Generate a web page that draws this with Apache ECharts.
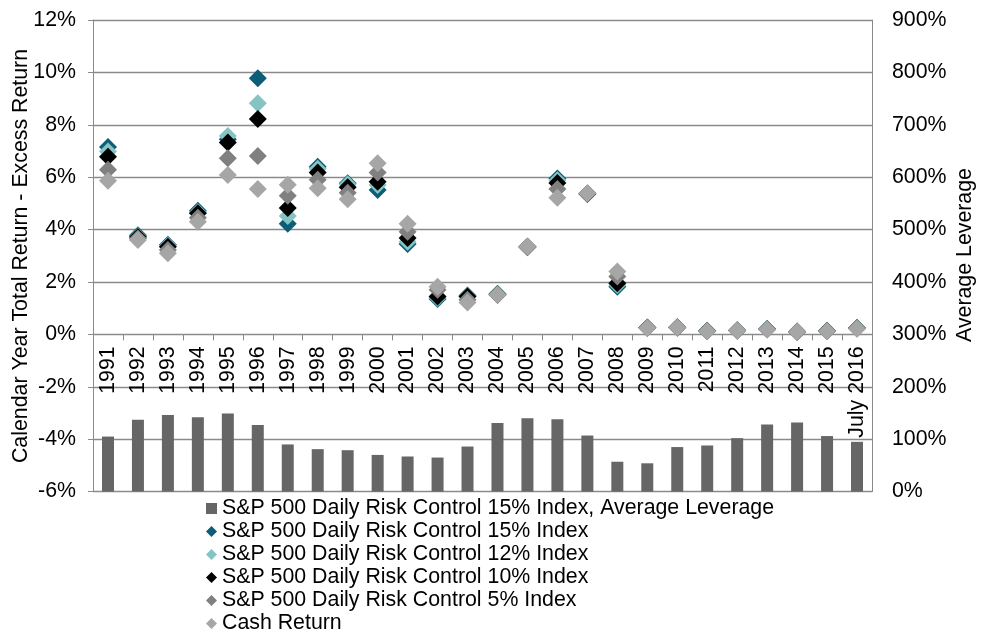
<!DOCTYPE html>
<html>
<head>
<meta charset="utf-8">
<script src="https://cdn.jsdelivr.net/npm/echarts@6/dist/echarts.min.js"></script>
<style>
html,body{margin:0;padding:0;background:#fff;}
#chart{width:985px;height:632px;}
</style>
</head>
<body>
<div id="chart"></div>
<script>
// Categories
const years = ['1991','1992','1993','1994','1995','1996','1997','1998','1999','2000','2001','2002','2003','2004','2005','2006','2007','2008','2009','2010','2011','2012','2013','2014','2015','July 2016'];

// Average leverage (right axis, %)
const leverage15 = [105, 137, 146, 142, 149, 127, 90, 81, 79, 70, 67, 65, 86, 131, 140, 138, 107, 57, 54, 85, 88, 102, 128, 132, 106, 95];

// Calendar year excess returns (left axis, %)
const rc15 = [7.15, 3.78, 3.42, 4.72, 7.45, 9.78, 4.22, 6.40, 5.77, 5.51, 3.45, 1.35, 1.48, 1.55, 3.33, 5.95, 5.38, 1.82, 0.26, 0.27, 0.14, 0.16, 0.21, 0.11, 0.14, 0.24];
const rc12 = [6.98, 3.75, 3.38, 4.66, 7.57, 8.82, 4.52, 6.32, 5.73, 5.70, 3.54, 1.40, 1.46, 1.52, 3.35, 5.88, 5.38, 1.89, 0.25, 0.26, 0.13, 0.15, 0.20, 0.10, 0.13, 0.23];
const rc10 = [6.78, 3.72, 3.35, 4.62, 7.32, 8.22, 4.82, 6.18, 5.62, 5.83, 3.68, 1.45, 1.45, 1.51, 3.35, 5.78, 5.36, 1.95, 0.25, 0.26, 0.13, 0.15, 0.20, 0.10, 0.13, 0.23];
const rc5  = [6.28, 3.66, 3.22, 4.45, 6.72, 6.81, 5.29, 5.90, 5.41, 6.18, 3.92, 1.70, 1.32, 1.51, 3.35, 5.55, 5.38, 2.21, 0.25, 0.26, 0.13, 0.15, 0.20, 0.10, 0.13, 0.23];
const cash = [5.86, 3.60, 3.10, 4.30, 6.08, 5.55, 5.71, 5.58, 5.16, 6.53, 4.22, 1.82, 1.22, 1.51, 3.35, 5.22, 5.38, 2.40, 0.24, 0.26, 0.12, 0.15, 0.19, 0.10, 0.12, 0.22];

// Axis ticks
const leftTicks = {min: -6, max: 12, interval: 2};
const rightTicks = {min: 0, max: 900, interval: 100};

const names = [
  'S&P 500 Daily Risk Control 15% Index, Average Leverage',
  'S&P 500 Daily Risk Control 15% Index',
  'S&P 500 Daily Risk Control 12% Index',
  'S&P 500 Daily Risk Control 10% Index',
  'S&P 500 Daily Risk Control 5% Index',
  'Cash Return'
];

const FONT = "'Liberation Sans', Arial, sans-serif";
const FS = 21.33;
const GRID_C = '#8a8a8a';
const GRID_TOP = 20, GRID_H = 471.6;
// place the category axis on the 0% line of the left axis
const xAxisOffset = -GRID_H * (0 - leftTicks.min) / (leftTicks.max - leftTicks.min);

const chart = echarts.init(document.getElementById('chart'), null, {renderer: 'canvas'});

function scatter(name, data, color) {
  return {
    name: name, type: 'scatter', xAxisIndex: 0, yAxisIndex: 0,
    data: data, symbol: 'diamond', symbolSize: 18,
    itemStyle: {color: color, opacity: 1},
    emphasis: {disabled: true}
  };
}

chart.setOption({
  animation: false,
  backgroundColor: '#fff',
  textStyle: {fontFamily: FONT, color: '#000'},
  grid: {left: 93, top: GRID_TOP, width: 779, height: GRID_H, containLabel: false},
  legend: {
    orient: 'vertical', left: 206, top: 497, height: 170, width: 700,
    itemWidth: 11, itemHeight: 11, itemGap: 0,
    padding: 0,
    textStyle: {fontFamily: FONT, fontSize: FS, color: '#000', lineHeight: 23},
    data: [
      {name: names[0], icon: 'rect'},
      {name: names[1], icon: 'diamond'},
      {name: names[2], icon: 'diamond'},
      {name: names[3], icon: 'diamond'},
      {name: names[4], icon: 'diamond'},
      {name: names[5], icon: 'diamond'}
    ],
    selectedMode: false
  },
  xAxis: {
    type: 'category', data: years, boundaryGap: true, position: 'bottom',
    offset: xAxisOffset,
    axisLine: {show: true, onZero: false, lineStyle: {color: GRID_C, width: 1}},
    axisTick: {show: true, alignWithLabel: false, length: 6, lineStyle: {color: GRID_C}},
    axisLabel: {rotate: 90, margin: 12, fontFamily: FONT, fontSize: FS, color: '#000', interval: 0},
    splitLine: {show: false}
  },
  yAxis: [
    {
      type: 'value', position: 'left', min: leftTicks.min, max: leftTicks.max, interval: leftTicks.interval,
      axisLine: {show: true, lineStyle: {color: GRID_C, width: 1}},
      axisTick: {show: true, length: 5, lineStyle: {color: GRID_C}},
      axisLabel: {formatter: '{value}%', margin: 17, fontFamily: FONT, fontSize: FS, color: '#000'},
      splitLine: {show: true, lineStyle: {color: GRID_C, width: 1.3}}
    },
    {
      type: 'value', position: 'right', min: rightTicks.min, max: rightTicks.max, interval: rightTicks.interval,
      axisLine: {show: true, lineStyle: {color: GRID_C, width: 1}},
      axisTick: {show: false},
      axisLabel: {formatter: '{value}%', margin: 20, fontFamily: FONT, fontSize: FS, color: '#000'},
      splitLine: {show: false}
    }
  ],
  graphic: [
    {
      type: 'text', x: 21, y: 256, rotation: Math.PI / 2,
      style: {text: 'Calendar Year Total Return - Excess Return', font: FS + 'px ' + FONT, fill: '#000', align: 'center', verticalAlign: 'middle'}
    },
    {
      type: 'text', x: 965, y: 255, rotation: Math.PI / 2,
      style: {text: 'Average Leverage', font: FS + 'px ' + FONT, fill: '#000', align: 'center', verticalAlign: 'middle'}
    }
  ],
  series: [
    {
      name: names[0], type: 'bar', xAxisIndex: 0, yAxisIndex: 1,
      data: leverage15, barWidth: 12,
      itemStyle: {color: '#666666'},
      emphasis: {disabled: true}
    },
    scatter(names[1], rc15, '#0b5d78'),
    scatter(names[2], rc12, '#86c3c3'),
    scatter(names[3], rc10, '#000000'),
    scatter(names[4], rc5, '#808080'),
    scatter(names[5], cash, '#a6a6a6')
  ]
});
</script>
</body>
</html>
